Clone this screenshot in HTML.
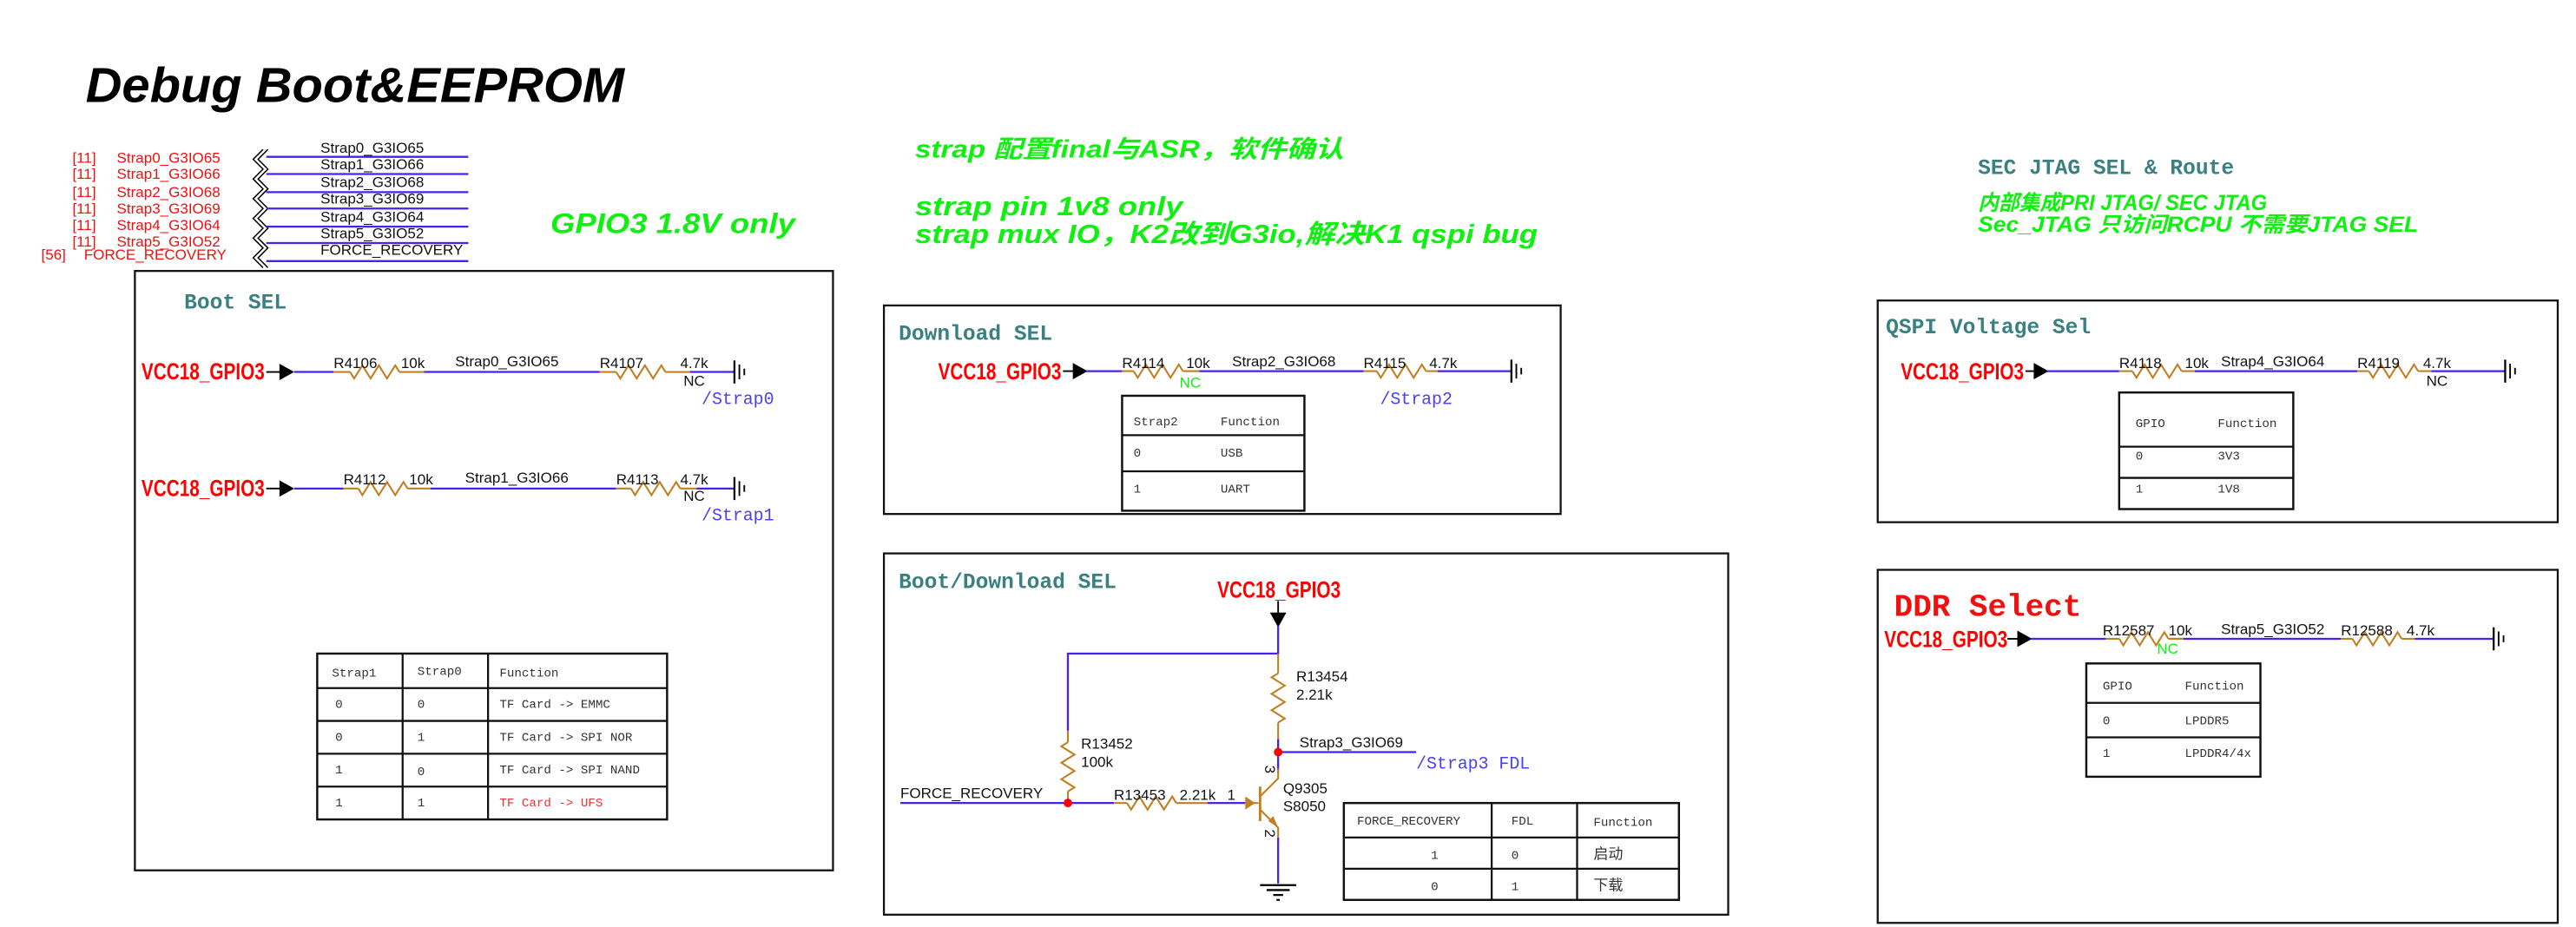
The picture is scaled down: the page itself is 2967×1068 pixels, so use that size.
<!DOCTYPE html>
<html><head><meta charset="utf-8"><style>
html,body{margin:0;padding:0;background:#fff}
svg{display:block}
.n{font-family:"Liberation Sans Narrow","Liberation Sans",sans-serif}
.m{font-family:"Liberation Mono","Noto Sans CJK SC",monospace}
.g{font-family:"Liberation Sans","Noto Sans CJK SC",sans-serif;font-weight:bold;font-style:italic;fill:#10f010}
.vcc{font-family:"Liberation Sans Narrow","Liberation Sans",sans-serif;font-weight:bold;fill:#f00;font-size:14px}
.w{stroke:#4a20f0;stroke-width:1.2;fill:none}
.r{stroke:#c08020;stroke-width:1.1;fill:none}
.t{font-family:"Liberation Mono","Noto Sans CJK SC",monospace;font-size:13px;font-weight:bold;fill:#3a8080}
.tb{fill:none;stroke:#111;stroke-width:1.3}
.tt{font-family:"Liberation Mono","Noto Sans CJK SC",monospace;font-size:7.5px;fill:#333}
</style></head><body>
<svg width="2967" height="1068" viewBox="0 0 1568 564.5" xmlns="http://www.w3.org/2000/svg">
<defs>
<path id="zz" d="M0 0 L2.5 4 L7.5 -4 L12.5 4 L17.5 -4 L22.5 4 L27.5 -4 L30 0" fill="none" stroke="#c08020" stroke-width="1.1"/>
<g id="gnd"><line x1="0" y1="-7" x2="0" y2="7" stroke="#000" stroke-width="1.2"/><line x1="3" y1="-4.5" x2="3" y2="4.5" stroke="#000" stroke-width="1"/><line x1="6" y1="-2" x2="6" y2="2" stroke="#000" stroke-width="1"/></g>
<path id="arr" d="M0 -5 L9 0 L0 5 Z" fill="#000"/>
</defs>

<text x="52" y="62" font-family="Liberation Sans,sans-serif" font-weight="bold" font-style="italic" font-size="30" textLength="328" lengthAdjust="spacingAndGlyphs">Debug Boot&amp;EEPROM</text>

<!-- left port list -->
<g class="n" font-size="9" fill="#f01010">
<text x="44" y="99">[11]</text><text x="71" y="99">Strap0_G3IO65</text>
<text x="44" y="109">[11]</text><text x="71" y="109">Strap1_G3IO66</text>
<text x="44" y="120">[11]</text><text x="71" y="120">Strap2_G3IO68</text>
<text x="44" y="130">[11]</text><text x="71" y="130">Strap3_G3IO69</text>
<text x="44" y="140">[11]</text><text x="71" y="140">Strap4_G3IO64</text>
<text x="44" y="150">[11]</text><text x="71" y="150">Strap5_G3IO52</text>
<text x="25" y="158">[56]</text><text x="51" y="158">FORCE_RECOVERY</text>
</g>
<path d="M160 91 L154 97 L160 103 L154 109 L160 115 L154 121 L160 127 L154 133 L160 139 L154 145 L160 151 L154 157 L160 163 M163 91 L157 97 L163 103 L157 109 L163 115 L157 121 L163 127 L157 133 L163 139 L157 145 L163 151 L157 157 L163 163" fill="none" stroke="#000" stroke-width="0.8"/>
<g class="w" stroke-width="1.3">
<line x1="162" y1="95.5" x2="285" y2="95.5"/><line x1="162" y1="106" x2="285" y2="106"/><line x1="162" y1="117" x2="285" y2="117"/><line x1="162" y1="127" x2="285" y2="127"/><line x1="162" y1="138" x2="285" y2="138"/><line x1="162" y1="148" x2="285" y2="148"/><line x1="162" y1="159" x2="285" y2="159"/>
</g>
<g class="n" font-size="9" fill="#111">
<text x="195" y="93">Strap0_G3IO65</text><text x="195" y="103">Strap1_G3IO66</text><text x="195" y="114">Strap2_G3IO68</text><text x="195" y="124">Strap3_G3IO69</text><text x="195" y="135">Strap4_G3IO64</text><text x="195" y="145">Strap5_G3IO52</text><text x="195" y="155">FORCE_RECOVERY</text>
</g>
<text class="g" x="335" y="142" font-size="17" textLength="149" lengthAdjust="spacingAndGlyphs">GPIO3 1.8V only</text>

<text class="g" x="557" y="96" font-size="15" textLength="261" lengthAdjust="spacingAndGlyphs">strap 配置final与ASR，软件确认</text>
<text class="g" x="557" y="131" font-size="16" textLength="163" lengthAdjust="spacingAndGlyphs">strap pin 1v8 only</text>
<text class="g" x="557" y="148" font-size="16" textLength="379" lengthAdjust="spacingAndGlyphs">strap mux IO，K2改到G3io,解决K1 qspi bug</text>

<text x="1204" y="106" class="t" font-size="11.5" fill="#3a7070">SEC JTAG SEL &amp; Route</text>
<text class="g" x="1204" y="128" font-size="13" textLength="176" lengthAdjust="spacingAndGlyphs">内部集成PRI JTAG/ SEC JTAG</text>
<text class="g" x="1204" y="141" font-size="13" textLength="268" lengthAdjust="spacingAndGlyphs">Sec_JTAG 只访问RCPU 不需要JTAG SEL</text>

<!-- Boot SEL -->
<rect x="82" y="165" width="425" height="365" fill="none" stroke="#111" stroke-width="1.2"/>
<text class="t" x="112" y="188">Boot SEL</text>
<text class="vcc" x="86" y="231" textLength="75" lengthAdjust="spacingAndGlyphs">VCC18_GPIO3</text>
<line x1="162" y1="226.5" x2="172" y2="226.5" stroke="#000"/><use href="#arr" x="170" y="226.5"/>
<line class="w" x1="179" y1="226.5" x2="203" y2="226.5"/><line class="r" x1="203" y1="226.5" x2="213" y2="226.5"/><use href="#zz" x="213" y="226.5"/><line class="r" x1="243" y1="226.5" x2="258" y2="226.5"/>
<line class="w" x1="258" y1="226.5" x2="365" y2="226.5"/><line class="r" x1="365" y1="226.5" x2="375" y2="226.5"/><use href="#zz" x="375" y="226.5"/><line class="r" x1="405" y1="226.5" x2="420" y2="226.5"/><line class="w" x1="420" y1="226.5" x2="447" y2="226.5"/>
<use href="#gnd" x="447" y="226.5"/>
<g class="n" font-size="9" fill="#111"><text x="203" y="224">R4106</text><text x="244" y="224">10k</text><text x="277" y="223">Strap0_G3IO65</text><text x="365" y="224">R4107</text><text x="414" y="224">4.7k</text><text x="416" y="235">NC</text></g>
<text class="m" x="427" y="246" font-size="10.5" fill="#4a40f0">/Strap0</text>
<text class="vcc" x="86" y="302" textLength="75" lengthAdjust="spacingAndGlyphs">VCC18_GPIO3</text>
<line x1="162" y1="297.5" x2="172" y2="297.5" stroke="#000"/><use href="#arr" x="170" y="297.5"/>
<line class="w" x1="179" y1="297.5" x2="209" y2="297.5"/><line class="r" x1="209" y1="297.5" x2="218" y2="297.5"/><use href="#zz" x="218" y="297.5"/><line class="r" x1="248" y1="297.5" x2="262" y2="297.5"/>
<line class="w" x1="262" y1="297.5" x2="375" y2="297.5"/><line class="r" x1="375" y1="297.5" x2="384" y2="297.5"/><use href="#zz" x="384" y="297.5"/><line class="r" x1="414" y1="297.5" x2="424" y2="297.5"/><line class="w" x1="424" y1="297.5" x2="447" y2="297.5"/>
<use href="#gnd" x="447" y="297.5"/>
<g class="n" font-size="9" fill="#111"><text x="209" y="295">R4112</text><text x="249" y="295">10k</text><text x="283" y="294">Strap1_G3IO66</text><text x="375" y="295">R4113</text><text x="414" y="295">4.7k</text><text x="416" y="305">NC</text></g>
<text class="m" x="427" y="317" font-size="10.5" fill="#4a40f0">/Strap1</text>
<rect class="tb" x="193" y="398" width="213" height="101"/>
<g stroke="#111" stroke-width="1.2"><line x1="245" y1="398" x2="245" y2="499"/><line x1="297" y1="398" x2="297" y2="499"/><line x1="193" y1="419" x2="406" y2="419"/><line x1="193" y1="439" x2="406" y2="439"/><line x1="193" y1="459" x2="406" y2="459"/><line x1="193" y1="479" x2="406" y2="479"/></g>
<g class="tt"><text x="202" y="412">Strap1</text><text x="254" y="411">Strap0</text><text x="304" y="412">Function</text>
<text x="204" y="431">0</text><text x="254" y="431">0</text><text x="304" y="431">TF Card -&gt; EMMC</text>
<text x="204" y="451">0</text><text x="254" y="451">1</text><text x="304" y="451">TF Card -&gt; SPI NOR</text>
<text x="204" y="471">1</text><text x="254" y="472">0</text><text x="304" y="471">TF Card -&gt; SPI NAND</text>
<text x="204" y="491">1</text><text x="254" y="491">1</text><text x="304" y="491" fill="#f03030">TF Card -&gt; UFS</text></g>

<!-- Download SEL -->
<rect x="538" y="186" width="412" height="127" fill="none" stroke="#111" stroke-width="1.2"/>
<text class="t" x="547" y="207">Download SEL</text>
<text class="vcc" x="571" y="231" textLength="75" lengthAdjust="spacingAndGlyphs">VCC18_GPIO3</text>
<line x1="647" y1="226" x2="655" y2="226" stroke="#000"/><use href="#arr" x="653" y="226"/>
<line class="w" x1="661" y1="226" x2="683" y2="226"/><line class="r" x1="683" y1="226" x2="690" y2="226"/><use href="#zz" x="690" y="226"/><line class="r" x1="720" y1="226" x2="730" y2="226"/>
<line class="w" x1="730" y1="226" x2="830" y2="226"/><line class="r" x1="830" y1="226" x2="838" y2="226"/><use href="#zz" x="838" y="226"/><line class="r" x1="868" y1="226" x2="875" y2="226"/><line class="w" x1="875" y1="226" x2="920" y2="226"/>
<use href="#gnd" x="920" y="226"/>
<g class="n" font-size="9" fill="#111"><text x="683" y="224">R4114</text><text x="722" y="224">10k</text><text x="750" y="223">Strap2_G3IO68</text><text x="830" y="224">R4115</text><text x="870" y="224">4.7k</text></g>
<text class="n" x="718" y="236" font-size="9" fill="#10f010">NC</text>
<text class="m" x="840" y="246" font-size="10.5" fill="#4a40f0">/Strap2</text>
<rect class="tb" x="683" y="241" width="111" height="70"/>
<g stroke="#111" stroke-width="1.2"><line x1="683" y1="265" x2="794" y2="265"/><line x1="683" y1="287" x2="794" y2="287"/></g>
<g class="tt"><text x="690" y="259">Strap2</text><text x="743" y="259">Function</text><text x="690" y="278">0</text><text x="743" y="278">USB</text><text x="690" y="300">1</text><text x="743" y="300">UART</text></g>

<!-- Boot/Download SEL -->
<rect x="538" y="337" width="514" height="220" fill="none" stroke="#111" stroke-width="1.2"/>
<text class="t" x="547" y="358">Boot/Download SEL</text>
<text class="vcc" x="741" y="364" textLength="75" lengthAdjust="spacingAndGlyphs">VCC18_GPIO3</text>
<line x1="778" y1="366" x2="778" y2="375" stroke="#000"/><path d="M773 373 L783 373 L778 382 Z" fill="#000"/>
<path class="w" d="M778 381 L778 398 L650 398 L650 445"/>
<line class="r" x1="778" y1="398" x2="778" y2="410"/><use href="#zz" transform="translate(778,410) rotate(90)"/><line class="r" x1="778" y1="440" x2="778" y2="450"/>
<line class="w" x1="778" y1="450" x2="778" y2="470"/>
<line class="w" x1="778" y1="458" x2="862" y2="458"/>
<circle cx="778" cy="458" r="2.6" fill="#f00"/>
<line class="r" x1="650" y1="445" x2="650" y2="452"/><use href="#zz" transform="translate(650,452) rotate(90)"/><line class="r" x1="650" y1="482" x2="650" y2="489"/>
<line class="w" x1="548" y1="489" x2="678" y2="489"/>
<circle cx="650" cy="489" r="2.6" fill="#f00"/>
<line class="r" x1="678" y1="489" x2="686" y2="489"/><use href="#zz" transform="translate(686,489)"/><line class="r" x1="716" y1="489" x2="735" y2="489"/>
<line class="w" x1="735" y1="489" x2="758" y2="489"/>
<line class="r" x1="758" y1="489" x2="766" y2="489"/><path d="M758 485 L764 489 L758 493Z" fill="#c08020"/>
<line x1="767" y1="479" x2="767" y2="500" stroke="#c08020" stroke-width="1.5"/>
<path class="r" d="M767 485 L778 474 L778 468 M767 493 L778 504 L778 510"/><path d="M772 500 L778 504 L775 497Z" fill="#c08020"/>
<line class="w" x1="778" y1="510" x2="778" y2="538"/>
<g stroke="#000" stroke-width="1.2"><line x1="767" y1="539" x2="789" y2="539"/><line x1="771" y1="542" x2="785" y2="542"/><line x1="775" y1="545" x2="781" y2="545"/><line x1="777" y1="548" x2="779" y2="548"/></g>
<g class="n" font-size="9" fill="#111"><text x="658" y="456">R13452</text><text x="658" y="467">100k</text><text x="789" y="415">R13454</text><text x="789" y="426">2.21k</text><text x="791" y="455">Strap3_G3IO69</text><text x="548" y="486">FORCE_RECOVERY</text><text x="678" y="487">R13453</text><text x="718" y="487">2.21k</text><text x="747" y="487">1</text><text x="781" y="483">Q9305</text><text x="781" y="494">S8050</text>
<text transform="translate(770,466) rotate(90)">3</text><text transform="translate(770,505) rotate(90)">2</text></g>
<text class="m" x="862" y="468" font-size="10.5" fill="#4a40f0">/Strap3 FDL</text>
<rect class="tb" x="818" y="489" width="204" height="59"/>
<g stroke="#111" stroke-width="1.2"><line x1="908" y1="489" x2="908" y2="548"/><line x1="960" y1="489" x2="960" y2="548"/><line x1="818" y1="510" x2="1022" y2="510"/><line x1="818" y1="529" x2="1022" y2="529"/></g>
<g class="tt"><text x="826" y="502">FORCE_RECOVERY</text><text x="920" y="502">FDL</text><text x="970" y="503">Function</text><text x="871" y="523">1</text><text x="920" y="523">0</text><text x="970" y="523" font-size="9">启动</text><text x="871" y="542">0</text><text x="920" y="542">1</text><text x="970" y="542" font-size="9">下载</text></g>

<!-- QSPI -->
<rect x="1143" y="183" width="414" height="135" fill="none" stroke="#111" stroke-width="1.2"/>
<text class="t" x="1148" y="203">QSPI Voltage Sel</text>
<text class="vcc" x="1157" y="231" textLength="75" lengthAdjust="spacingAndGlyphs">VCC18_GPIO3</text>
<line x1="1233" y1="226" x2="1240" y2="226" stroke="#000"/><use href="#arr" x="1238" y="226"/>
<line class="w" x1="1246" y1="226" x2="1290" y2="226"/><line class="r" x1="1290" y1="226" x2="1298" y2="226"/><use href="#zz" x="1298" y="226"/><line class="r" x1="1328" y1="226" x2="1336" y2="226"/>
<line class="w" x1="1336" y1="226" x2="1435" y2="226"/><line class="r" x1="1435" y1="226" x2="1442" y2="226"/><use href="#zz" x="1442" y="226"/><line class="r" x1="1472" y1="226" x2="1480" y2="226"/><line class="w" x1="1480" y1="226" x2="1525" y2="226"/>
<use href="#gnd" x="1525" y="226"/>
<g class="n" font-size="9" fill="#111"><text x="1290" y="224">R4118</text><text x="1330" y="224">10k</text><text x="1352" y="223">Strap4_G3IO64</text><text x="1435" y="224">R4119</text><text x="1475" y="224">4.7k</text><text x="1477" y="235">NC</text></g>
<rect class="tb" x="1290" y="239" width="106" height="71"/>
<g stroke="#111" stroke-width="1.2"><line x1="1290" y1="272" x2="1396" y2="272"/><line x1="1290" y1="291" x2="1396" y2="291"/></g>
<g class="tt"><text x="1300" y="260">GPIO</text><text x="1350" y="260">Function</text><text x="1300" y="280">0</text><text x="1350" y="280">3V3</text><text x="1300" y="300">1</text><text x="1350" y="300">1V8</text></g>

<!-- DDR -->
<rect x="1143" y="347" width="414" height="215" fill="none" stroke="#111" stroke-width="1.2"/>
<text x="1153" y="375" font-family="Liberation Mono,monospace" font-weight="bold" font-size="19" fill="#f01010" textLength="114" lengthAdjust="spacingAndGlyphs">DDR Select</text>
<text class="vcc" x="1147" y="394" textLength="75" lengthAdjust="spacingAndGlyphs">VCC18_GPIO3</text>
<line x1="1222" y1="389" x2="1230" y2="389" stroke="#000"/><use href="#arr" x="1228" y="389"/>
<line class="w" x1="1236" y1="389" x2="1282" y2="389"/><line class="r" x1="1282" y1="389" x2="1290" y2="389"/><use href="#zz" x="1290" y="389"/><line class="r" x1="1320" y1="389" x2="1329" y2="389"/>
<line class="w" x1="1329" y1="389" x2="1425" y2="389"/><line class="r" x1="1425" y1="389" x2="1432" y2="389"/><use href="#zz" x="1432" y="389"/><line class="r" x1="1462" y1="389" x2="1470" y2="389"/><line class="w" x1="1470" y1="389" x2="1518" y2="389"/>
<use href="#gnd" x="1518" y="389"/>
<g class="n" font-size="9" fill="#111"><text x="1280" y="387">R12587</text><text x="1320" y="387">10k</text><text x="1352" y="386">Strap5_G3IO52</text><text x="1425" y="387">R12588</text><text x="1465" y="387">4.7k</text></g>
<text class="n" x="1313" y="398" font-size="9" fill="#10f010">NC</text>
<rect class="tb" x="1270" y="404" width="106" height="69"/>
<g stroke="#111" stroke-width="1.2"><line x1="1270" y1="428" x2="1376" y2="428"/><line x1="1270" y1="449" x2="1376" y2="449"/></g>
<g class="tt"><text x="1280" y="420">GPIO</text><text x="1330" y="420">Function</text><text x="1280" y="441">0</text><text x="1330" y="441">LPDDR5</text><text x="1280" y="461">1</text><text x="1330" y="461">LPDDR4/4x</text></g>
</svg>
</body></html>
